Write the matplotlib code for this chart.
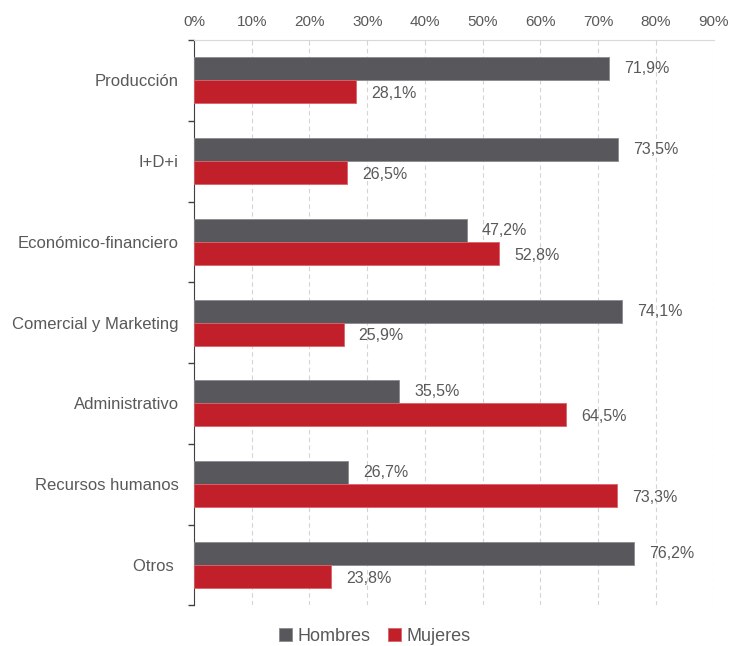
import matplotlib.pyplot as plt
import numpy as np
from matplotlib.ticker import FixedLocator, PercentFormatter

plt.rcParams['font.family'] = ['Liberation Sans', 'DejaVu Sans']

categorias = ['Producción', 'I+D+i', 'Económico-financiero', 'Comercial y Marketing',
              'Administrativo', 'Recursos humanos', 'Otros ']
hombres = [71.9, 73.5, 47.2, 74.1, 35.5, 26.7, 76.2]
mujeres = [28.1, 26.5, 52.8, 25.9, 64.5, 73.3, 23.8]

gris = '#58575c'
rojo = '#c1202a'
texto = '#595959'

fig = plt.figure(figsize=(7.32, 6.46), dpi=100)
ax = fig.add_axes([0.265, 0.063, 0.71, 0.875])

y = np.arange(len(categorias))
h = 0.285
ax.barh(y - h / 2, hombres, height=h, color=gris, edgecolor='#8a898d', linewidth=0.6,
        label='Hombres', zorder=3)
ax.barh(y + h / 2, mujeres, height=h, color=rojo, edgecolor='#d9646a', linewidth=0.6,
        label='Mujeres', zorder=3)

for i in range(len(categorias)):
    ax.text(hombres[i] + 2.6, y[i] - h / 2, f'{hombres[i]:.1f}%'.replace('.', ','),
            va='center', ha='left', fontsize=11.5, color=texto)
    ax.text(mujeres[i] + 2.6, y[i] + h / 2 + 0.02, f'{mujeres[i]:.1f}%'.replace('.', ','),
            va='center', ha='left', fontsize=11.5, color=texto)

ax.set_xlim(0, 90)
ax.set_ylim(len(categorias) - 0.5, -0.5)
ax.xaxis.set_major_locator(FixedLocator(np.arange(0, 91, 10)))
ax.xaxis.set_major_formatter(PercentFormatter(decimals=0))
ax.xaxis.tick_top()
ax.tick_params(axis='x', length=0, labelsize=11, labelcolor=texto, pad=8)
ax.grid(axis='x', color='#d4d4d4', linestyle=(0, (4, 3)), linewidth=0.8, zorder=0)

ax.set_yticks(y)
ax.set_yticklabels(categorias)
ax.yaxis.set_minor_locator(FixedLocator(np.arange(-0.5, len(categorias), 1)))
ax.tick_params(axis='y', which='major', length=0, labelsize=12, labelcolor=texto, pad=11)
ax.tick_params(axis='y', which='minor', length=4, width=1, color='#404040')

for s in ['right', 'bottom']:
    ax.spines[s].set_visible(False)
ax.spines['top'].set_color('#d9d9d9')
ax.spines['left'].set_color('#404040')

ax.legend(loc='center', bbox_to_anchor=(0.348, -0.055), ncol=2, frameon=False,
          fontsize=13, handlelength=0.7, handleheight=0.7, handletextpad=0.3,
          columnspacing=1.0, labelcolor=texto)

fig.savefig('out.png', dpi=100)
